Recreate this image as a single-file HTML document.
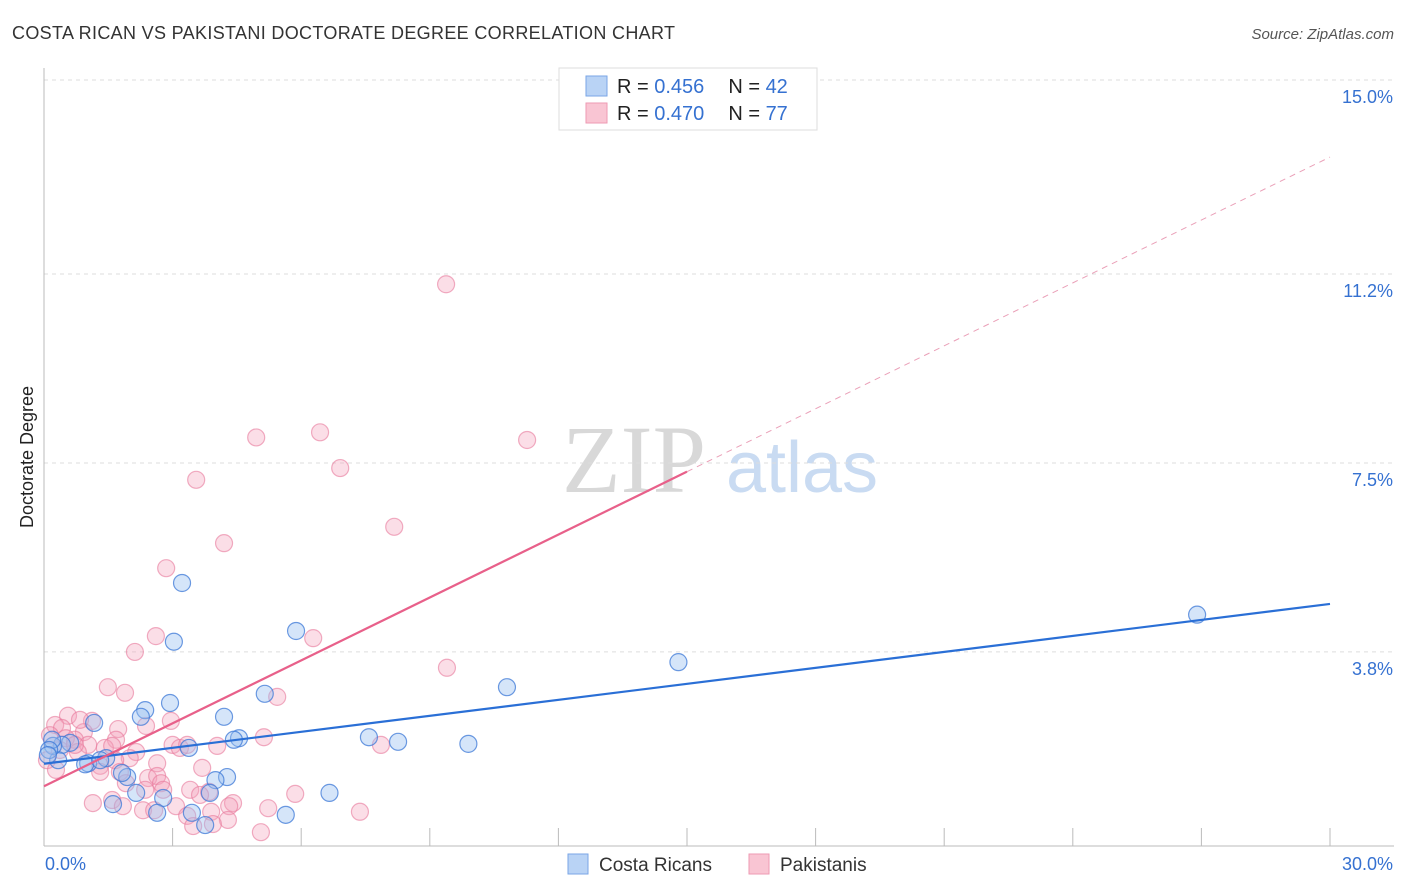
<!DOCTYPE html>
<html><head><meta charset="utf-8"><style>
body{margin:0;background:#fff;font-family:"Liberation Sans",sans-serif;}
svg{display:block}
</style></head><body>
<svg id="chart" width="1406" height="892">
<text x="12" y="39" font-size="18" fill="#333" textLength="663">COSTA RICAN VS PAKISTANI DOCTORATE DEGREE CORRELATION CHART</text>
<text x="1394" y="39" font-size="15" fill="#555" font-style="italic" text-anchor="end">Source: ZipAtlas.com</text>
<g>
<text x="634" y="492" font-size="96" font-family="Liberation Serif,serif" fill="#d8d8d8" text-anchor="middle">ZIP</text>
<text x="802" y="492" font-size="72" fill="#c9dbf2" text-anchor="middle">atlas</text>
</g>
<g id="grid"></g>
<g id="axes"></g>
<g id="marks"></g>
<g>
<rect x="559" y="68" width="258" height="62" fill="#fff" stroke="#ddd"/>
<rect x="586" y="76" width="21" height="20" fill="#b9d3f5" stroke="#7aa6e6"/>
<rect x="586" y="103" width="21" height="20" fill="#f9c5d3" stroke="#ee9ab3"/>
<text x="617" y="93" font-size="20" fill="#222">R = <tspan fill="#3571d1">0.456</tspan><tspan dx="24">N = </tspan><tspan fill="#3571d1">42</tspan></text>
<text x="617" y="120" font-size="20" fill="#222">R = <tspan fill="#3571d1">0.470</tspan><tspan dx="24">N = </tspan><tspan fill="#3571d1">77</tspan></text>
</g>
<g>
<rect x="568" y="854" width="20" height="20" fill="#b9d3f5" stroke="#7aa6e6"/>
<text x="599" y="871" font-size="19" fill="#333">Costa Ricans</text>
<rect x="749" y="854" width="20" height="20" fill="#f9c5d3" stroke="#ee9ab3"/>
<text x="780" y="871" font-size="19" fill="#333">Pakistanis</text>
</g>
<text transform="translate(33,457) rotate(-90)" font-size="18" fill="#222" text-anchor="middle">Doctorate Degree</text>
</svg>
<script>
const yTicks=[3.8,7.5,11.2,15.0];
const yTickLabels=["3.8%","7.5%","11.2%","15.0%"];
const xEndLabels=["0.0%","30.0%"];
const blueX=[26.9,14.8,10.8,9.9,8.26,7.58,6.66,5.88,5.64,5.15,4.55,4.43,4.27,4.2,4.0,3.87,3.76,3.45,3.38,3.22,3.03,2.94,2.78,2.64,2.36,2.26,2.15,1.94,1.82,1.61,1.45,1.17,1.03,0.96,0.61,0.42,0.33,0.21,0.19,0.12,0.09,1.31];
const blueY=[4.53,3.6,3.11,2.0,2.04,2.13,1.04,4.21,0.61,2.98,2.11,2.08,1.35,2.53,1.29,1.04,0.41,0.65,1.92,5.15,4.0,2.8,0.94,0.65,2.66,2.53,1.04,1.35,1.43,0.82,1.72,2.41,1.62,1.6,2.02,1.98,1.68,1.96,2.08,1.88,1.78,1.68];
const pinkX=[9.38,11.27,6.44,4.95,6.91,3.55,8.17,4.2,2.85,6.28,2.61,2.12,9.4,1.49,1.89,5.44,0.56,1.12,2.96,0.26,0.42,1.73,0.93,5.13,0.14,0.72,1.68,3.0,3.17,7.86,1.42,2.15,1.03,0.37,0.79,0.07,2.0,1.66,1.31,2.64,3.69,2.43,2.64,1.31,1.77,2.73,1.91,2.78,3.85,5.86,1.59,4.41,4.32,3.08,1.84,2.31,2.57,5.23,3.9,7.37,3.34,4.29,3.48,3.94,5.06,1.14,3.34,0.84,0.51,2.36,4.04,1.59,0.28,2.38,3.41,0.72,3.64];
const pinkY=[11.0,7.95,8.1,8.0,7.4,7.17,6.25,5.93,5.44,4.07,4.11,3.8,3.49,3.11,3.0,2.92,2.55,2.45,2.45,2.37,2.31,2.29,2.23,2.13,2.17,2.08,2.08,1.98,1.92,1.98,1.92,1.84,1.98,1.88,1.84,1.68,1.72,1.68,1.57,1.62,1.53,1.33,1.37,1.45,1.45,1.23,1.23,1.1,1.06,1.02,0.9,0.84,0.78,0.78,0.78,0.7,0.7,0.74,0.67,0.67,0.59,0.51,0.39,0.43,0.27,0.84,1.98,2.47,2.11,1.1,1.96,1.96,1.49,2.35,1.1,1.98,1.0];
const blueTrend=[1.61,4.74];
const pinkTrend=[1.17,13.49];
const pinkSolidEnd=15;

const NS="http://www.w3.org/2000/svg";
const X0=44,X1=1330,YB=846,PPU=51.07;
const sx=v=>X0+(v/30)*(X1-X0);
const sy=v=>YB-v*PPU;
function mk(tag,attrs,parent){const e=document.createElementNS(NS,tag);for(const k in attrs)e.setAttribute(k,attrs[k]);document.getElementById(parent).appendChild(e);return e;}

yTicks.forEach((t,i)=>{
  const g=mk('line',{x1:X0,x2:1394,y1:sy(t),y2:sy(t),stroke:'#ddd','stroke-dasharray':'4,4'},'grid');
  
  
  const l=mk('text',{x:1393,y:sy(t)+23,'font-size':18,fill:'#3571d1','text-anchor':'end'},'axes');
  l.textContent=yTickLabels[i];
  
  
});
let ax=mk('line',{x1:X0,x2:X0,y1:68,y2:YB,stroke:'#bbb'},'axes');


ax=mk('line',{x1:X0,x2:1394,y1:YB,y2:YB,stroke:'#bbb'},'axes');


for(let i=1;i<=10;i++){
  const t=mk('line',{x1:sx(i*3),x2:sx(i*3),y1:828,y2:YB,stroke:'#bbb'},'axes');
  
  
}
[[0,'start',45],[30,'end',1393]].forEach((p,i)=>{
  const t=mk('text',{x:p[2],y:870,'font-size':18,fill:'#3571d1','text-anchor':p[1]},'axes');
  t.textContent=xEndLabels[i];
  
  
});
pinkX.forEach((x,i)=>{
  const c=mk('circle',{cx:sx(x),cy:sy(pinkY[i]),r:8.5,fill:'rgba(244,160,185,0.35)',stroke:'rgba(232,120,155,0.6)','stroke-width':1.2},'marks');
  
  
});
blueX.forEach((x,i)=>{
  const c=mk('circle',{cx:sx(x),cy:sy(blueY[i]),r:8.5,fill:'rgba(150,190,240,0.4)',stroke:'rgba(60,120,215,0.75)','stroke-width':1.2},'marks');
  
  
});
const py=x=>pinkTrend[0]+(pinkTrend[1]-pinkTrend[0])*x/30;
let l=mk('line',{x1:sx(0),y1:sy(blueTrend[0]),x2:sx(30),y2:sy(blueTrend[1]),stroke:'#2a6fd6','stroke-width':2.2},'marks');


l=mk('line',{x1:sx(0),y1:sy(py(0)),x2:sx(pinkSolidEnd),y2:sy(py(pinkSolidEnd)),stroke:'#e8608a','stroke-width':2.2},'marks');


l=mk('line',{x1:sx(pinkSolidEnd),y1:sy(py(pinkSolidEnd)),x2:sx(30),y2:sy(py(30)),stroke:'#eaa0b8','stroke-width':1,'stroke-dasharray':'6,5'},'marks');


</script>
</body></html>
